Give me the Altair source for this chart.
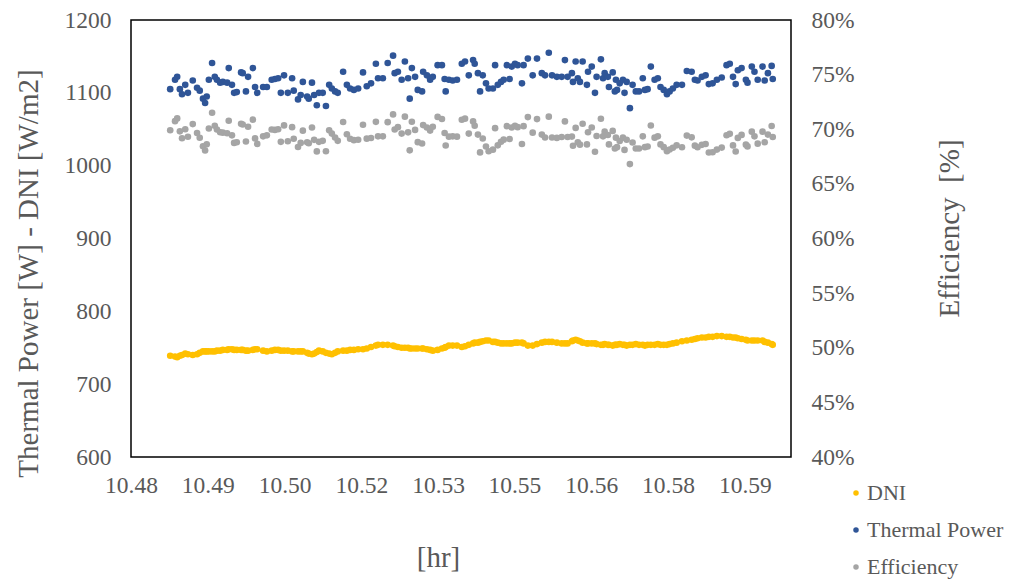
import altair as alt
import pandas as pd

# Sample times [hr]
hours = [
    10.4830, 10.4839, 10.4843, 10.4848, 10.4852, 10.4858, 10.4863, 10.4872, 10.4880, 10.4885,
    10.4891, 10.4895, 10.4898, 10.4902, 10.4908, 10.4913, 10.4917, 10.4923, 10.4928, 10.4936,
    10.4939, 10.4945, 10.4949, 10.4954, 10.4962, 10.4965, 10.4971, 10.4975, 10.4984, 10.4988,
    10.4992, 10.5003, 10.5010, 10.5019, 10.5025, 10.5031, 10.5036, 10.5042, 10.5049, 10.5057,
    10.5060, 10.5068, 10.5073, 10.5077, 10.5085, 10.5088, 10.5094, 10.5098, 10.5103, 10.5107,
    10.5114, 10.5120, 10.5126, 10.5131, 10.5137, 10.5142, 10.5152, 10.5159, 10.5165, 10.5172,
    10.5180, 10.5189, 10.5196, 10.5204, 10.5213, 10.5217, 10.5226, 10.5235, 10.5245, 10.5248,
    10.5254, 10.5261, 10.5267, 10.5273, 10.5276, 10.5280, 10.5286, 10.5291, 10.5299, 10.5301,
    10.5308, 10.5314, 10.5319, 10.5328, 10.5336, 10.5341, 10.5343, 10.5349, 10.5356, 10.5364,
    10.5373, 10.5379, 10.5386, 10.5394, 10.5397, 10.5403, 10.5407, 10.5412, 10.5418, 10.5423,
    10.5431, 10.5435, 10.5440, 10.5446, 10.5451, 10.5457, 10.5462, 10.5466, 10.5472, 10.5477,
    10.5485, 10.5488, 10.5496, 10.5505, 10.5513, 10.5522, 10.5528, 10.5535, 10.5541, 10.5550,
    10.5559, 10.5565, 10.5570, 10.5578, 10.5580, 10.5585, 10.5589, 10.5593, 10.5598, 10.5606,
    10.5608, 10.5615, 10.5621, 10.5624, 10.5632, 10.5636, 10.5639, 10.5645, 10.5647, 10.5654,
    10.5658, 10.5660, 10.5662, 10.5667, 10.5673, 10.5676, 10.5680, 10.5686, 10.5691, 10.5697,
    10.5703, 10.5710, 10.5714, 10.5719, 10.5725, 10.5732, 10.5738, 10.5743, 10.5749, 10.5755,
    10.5760, 10.5766, 10.5773, 10.5783, 10.5792, 10.5801, 10.5807, 10.5812, 10.5820, 10.5827,
    10.5833, 10.5840, 10.5848, 10.5857, 10.5866, 10.5872, 10.5878, 10.5883, 10.5887, 10.5894,
    10.5902, 10.5905, 10.5913, 10.5918, 10.5924, 10.5933, 10.5937, 10.5943, 10.5950, 10.5952,
]

# Direct normal irradiance [W/m2]
dni = [
    739, 738, 737, 739, 740, 742, 741, 740, 741, 743,
    745, 745, 745, 745, 745, 745, 746, 746, 747, 747,
    748, 748, 747, 747, 747, 747, 746, 746, 747, 748,
    748, 746, 745, 746, 747, 747, 746, 746, 746, 745,
    745, 745, 745, 745, 743, 742, 741, 742, 744, 746,
    745, 743, 742, 741, 743, 745, 746, 746, 747, 747,
    748, 748, 749, 751, 753, 754, 754, 754, 753, 752,
    751, 750, 750, 750, 749, 749, 749, 749, 749, 749,
    748, 747, 746, 747, 749, 750, 751, 753, 753, 753,
    751, 752, 754, 756, 757, 757, 758, 759, 760, 760,
    758, 758, 757, 756, 756, 756, 756, 756, 757, 757,
    757, 756, 753, 753, 755, 757, 758, 758, 758, 757,
    756, 756, 756, 759, 760, 761, 760, 759, 757, 756,
    756, 756, 756, 755, 754, 754, 755, 754, 754, 753,
    754, 754, 754, 755, 754, 754, 753, 754, 754, 755,
    754, 754, 753, 754, 754, 754, 755, 754, 754, 754,
    755, 756, 757, 759, 760, 761, 762, 763, 764, 764,
    765, 765, 766, 766, 765, 765, 764, 764, 763, 762,
    761, 760, 760, 760, 760, 760, 758, 757, 755, 754,
]

# Collector thermal power [W]
thermal_power = [
    1105, 1118, 1122, 1105, 1098, 1111, 1100, 1117, 1107, 1103,
    1092, 1086, 1095, 1118, 1141, 1122, 1118, 1114, 1115, 1114,
    1134, 1111, 1100, 1101, 1128, 1127, 1102, 1122, 1134, 1108,
    1100, 1108, 1108, 1118, 1119, 1120, 1100, 1124, 1100, 1120,
    1103, 1091, 1097, 1115, 1095, 1092, 1114, 1097, 1083, 1100,
    1100, 1082, 1111, 1106, 1102, 1100, 1129, 1111, 1106, 1104,
    1106, 1128, 1109, 1113, 1140, 1120, 1120, 1141, 1151, 1127,
    1129, 1118, 1143, 1120, 1092, 1134, 1122, 1104, 1102, 1129,
    1124, 1118, 1122, 1138, 1138, 1119, 1102, 1118, 1117, 1118,
    1140, 1143, 1124, 1145, 1140, 1127, 1102, 1124, 1113, 1106,
    1106, 1138, 1111, 1115, 1118, 1138, 1119, 1136, 1140, 1138,
    1113, 1138, 1147, 1124, 1147, 1127, 1124, 1155, 1124, 1122,
    1122, 1145, 1122, 1127, 1115, 1143, 1120, 1115, 1143, 1111,
    1129, 1136, 1100, 1122, 1146, 1120, 1127, 1122, 1108, 1128,
    1102, 1118, 1104, 1113, 1118, 1100, 1115, 1079, 1111, 1102,
    1102, 1120, 1104, 1105, 1136, 1118, 1120, 1108, 1104, 1098,
    1102, 1106, 1111, 1111, 1130, 1129, 1118, 1117, 1122, 1124,
    1112, 1113, 1118, 1121, 1138, 1140, 1122, 1112, 1131, 1134,
    1118, 1114, 1136, 1129, 1118, 1136, 1117, 1127, 1137, 1119,
]

# Collector efficiency [%]
efficiency = [
    69.91, 70.74, 70.99, 69.81, 69.18, 70.00, 69.31, 70.47, 69.66, 69.22,
    68.44, 68.06, 68.62, 70.07, 71.51, 70.32, 69.98, 69.73, 69.69, 69.63,
    70.78, 69.44, 68.75, 68.81, 70.50, 70.44, 68.88, 70.23, 70.88, 69.16,
    68.66, 69.35, 69.44, 69.98, 69.94, 70.00, 68.85, 70.35, 68.90, 70.19,
    69.13, 68.37, 68.75, 69.87, 68.81, 68.72, 70.16, 69.03, 67.97, 68.85,
    68.94, 67.99, 69.91, 69.60, 69.25, 68.94, 70.66, 69.54, 69.13, 69.00,
    69.04, 70.41, 69.14, 69.20, 70.68, 69.35, 69.35, 70.65, 71.36, 69.98,
    70.19, 69.60, 71.15, 69.72, 68.07, 70.69, 69.94, 68.82, 68.70, 70.38,
    70.16, 69.88, 70.23, 71.13, 70.94, 69.66, 68.51, 69.32, 69.35, 69.32,
    70.87, 70.97, 69.60, 70.72, 70.32, 69.51, 67.88, 69.15, 68.42, 67.99,
    68.13, 70.10, 68.53, 68.86, 69.05, 70.28, 69.11, 70.16, 70.32, 70.19,
    68.65, 70.28, 71.11, 69.69, 70.93, 69.51, 69.24, 71.15, 69.24, 69.21,
    69.29, 70.72, 69.29, 69.33, 68.49, 70.12, 68.80, 68.59, 70.50, 68.61,
    69.73, 70.16, 67.94, 69.38, 70.96, 69.35, 69.78, 69.47, 68.61, 69.85,
    68.24, 69.23, 68.36, 68.92, 69.23, 68.11, 69.04, 66.81, 68.79, 68.24,
    68.24, 69.35, 68.36, 68.42, 70.34, 69.23, 69.35, 68.61, 68.36, 67.99,
    68.15, 68.31, 68.53, 68.35, 69.42, 69.26, 68.50, 68.35, 68.57, 68.65,
    67.87, 67.90, 68.14, 68.32, 69.45, 69.58, 68.52, 67.96, 69.21, 69.48,
    68.59, 68.43, 69.78, 69.35, 68.68, 69.78, 68.81, 69.51, 70.30, 69.29,
]

series_names = ["DNI", "Thermal Power", "Efficiency"]
series_colors = ["#FFC000", "#2F5597", "#A5A5A5"]

x_domain = [10.4757, 10.5986]
x_ticks = [10.4757, 10.4900, 10.5043, 10.5186, 10.5329, 10.5471, 10.5614, 10.5757, 10.5900]
left_ticks = [600, 700, 800, 900, 1000, 1100, 1200]
right_ticks = [40, 45, 50, 55, 60, 65, 70, 75, 80]

FONT = "Liberation Serif"
TEXT = "#595959"
TICK_LABEL_SIZE = 23.5
LEGEND_LABEL_SIZE = 22
TITLE_SIZE = 29
POINT_SIZE = 44

left_df = pd.concat(
    [
        pd.DataFrame({"hr": hours, "value": dni, "series": "DNI"}),
        pd.DataFrame({"hr": hours, "value": thermal_power, "series": "Thermal Power"}),
    ],
    ignore_index=True,
)
right_df = pd.DataFrame({"hr": hours, "value": efficiency, "series": "Efficiency"})

axis_style = dict(
    grid=False, ticks=False, domain=False, labelFlush=False,
    labelFont=FONT, labelFontSize=TICK_LABEL_SIZE, labelColor=TEXT,
    titleFont=FONT, titleFontSize=TITLE_SIZE, titleColor=TEXT, titleFontWeight="normal",
    titleBaseline="alphabetic", titleAlign="center",
)

x_enc = alt.X(
    "hr:Q",
    scale=alt.Scale(domain=x_domain, nice=False, zero=False),
    axis=alt.Axis(
        values=x_ticks, format=".2f", title="[hr]", labelPadding=16,
        titleX=307, titleY=109, **axis_style,
    ),
)

color_enc = alt.Color(
    "series:N",
    scale=alt.Scale(domain=series_names, range=series_colors),
    legend=alt.Legend(
        title=None, orient="none", legendX=714, legendY=462, direction="vertical",
        symbolType="circle", symbolSize=30, symbolStrokeWidth=0,
        labelFont=FONT, labelFontSize=LEGEND_LABEL_SIZE, labelColor=TEXT,
        labelOffset=0, rowPadding=15,
    ),
)

left_layer = alt.Chart(left_df).mark_circle(size=POINT_SIZE, opacity=1).encode(
    x=x_enc,
    y=alt.Y(
        "value:Q",
        scale=alt.Scale(domain=[600, 1200], nice=False, zero=False),
        axis=alt.Axis(
            values=left_ticks, format="d", title="Thermal Power [W] - DNI [W/m2]",
            labelPadding=20, titleAngle=270, titleX=-94, titleY=253, **axis_style,
        ),
    ),
    color=color_enc,
)

right_layer = alt.Chart(right_df).mark_circle(size=POINT_SIZE, opacity=1).encode(
    x=x_enc,
    y=alt.Y(
        "value:Q",
        scale=alt.Scale(domain=[40, 80], nice=False, zero=False),
        axis=alt.Axis(
            orient="right", values=right_ticks, labelExpr="datum.value + '%'",
            title="Efficiency\u00a0 [%]", labelPadding=20, titleAngle=270,
            titleX=167, titleY=208, **axis_style,
        ),
    ),
    color=color_enc,
)

chart = (
    alt.layer(left_layer, right_layer)
    .resolve_scale(y="independent")
    .properties(
        width=660,
        height=437,
        autosize=alt.AutoSizeParams(type="none"),
        padding={"left": 131, "top": 20, "right": 225, "bottom": 124},
    )
    .configure_view(stroke="#000000", strokeWidth=1.5)
)

chart.save("out.html", embed_options={"renderer": "svg", "actions": False})
